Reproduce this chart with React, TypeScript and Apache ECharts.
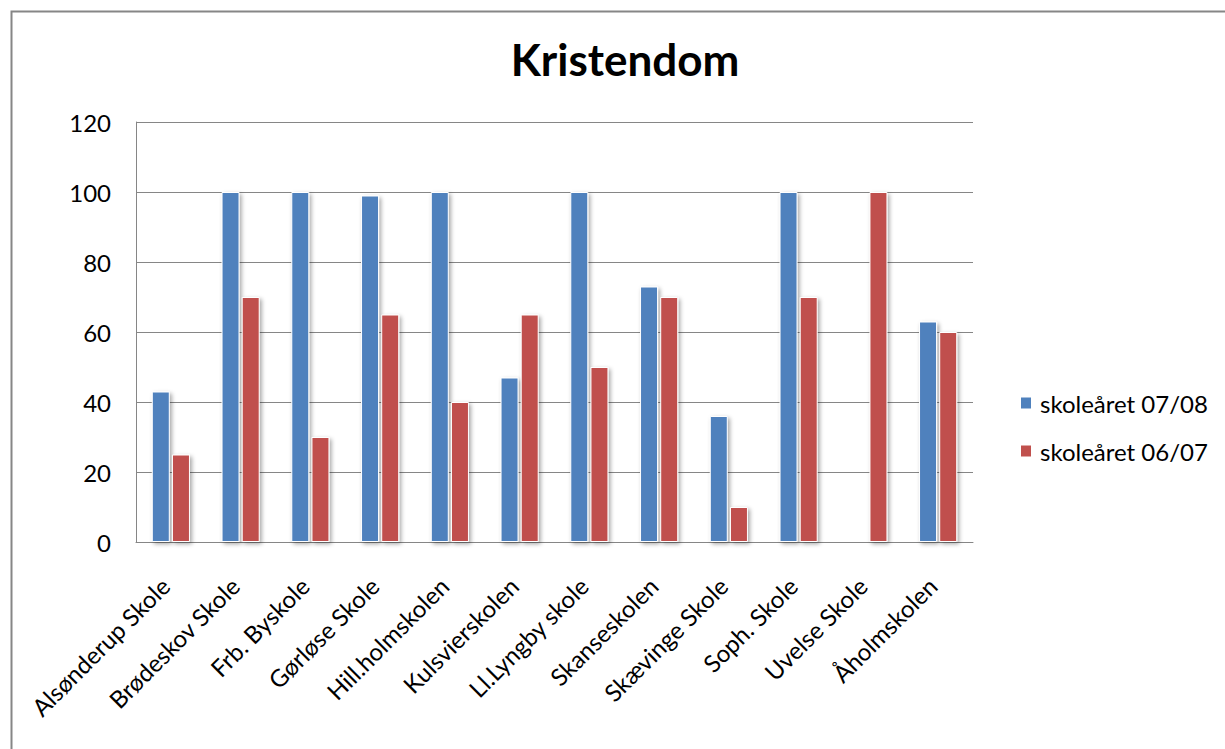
import React, { useEffect, useRef } from "react";
import * as echarts from "echarts";

const titleText = "Kristendom";
const categories = [
  "Alsønderup Skole",
  "Brødeskov Skole",
  "Frb. Byskole",
  "Gørløse Skole",
  "Hill.holmskolen",
  "Kulsvierskolen",
  "Ll.Lyngby skole",
  "Skanseskolen",
  "Skævinge Skole",
  "Soph. Skole",
  "Uvelse Skole",
  "Åholmskolen",
];
const seriesNames = ["skoleåret 07/08", "skoleåret 06/07"];
const values0708: (number | null)[] = [43, 100, 100, 99, 100, 47, 100, 73, 36, 100, null, 63];
const values0607: (number | null)[] = [25, 70, 30, 65, 40, 65, 50, 70, 10, 70, 100, 60];
const yMin = 0;
const yMax = 120;
const yInterval = 20;

const FONT = "Lato, 'Open Sans', sans-serif";

export default function App() {
  const ref = useRef<HTMLDivElement>(null);
  useEffect(() => {
    if (!ref.current) return;
    const chart = echarts.init(ref.current, null, { renderer: "svg" });
    const barStyle = (color: string) => ({
      color,
      borderColor: "#ffffff",
      borderWidth: 1,
      shadowColor: "rgba(0,0,0,0.35)",
      shadowBlur: 4,
      shadowOffsetX: 2,
      shadowOffsetY: 2,
    });
    chart.setOption({
      animation: false,
      backgroundColor: "#ffffff",
      textStyle: { fontFamily: FONT },
      title: {
        text: titleText,
        left: 620,
        textAlign: "center",
        top: 32,
        textStyle: { fontFamily: FONT, fontSize: 44, fontWeight: "bold", color: "#000000" },
      },
      graphic: [
        {
          type: "rect",
          left: 9,
          top: 9,
          shape: { x: 0, y: 0, width: 1300, height: 800 },
          style: { fill: "none", stroke: "#868686", lineWidth: 2 },
          silent: true,
          z: 100,
        },
      ],
      legend: {
        orient: "vertical",
        left: 1019,
        top: 391,
        padding: 0,
        itemWidth: 12,
        itemHeight: 13,
        itemGap: 24,
        icon: "rect",
        data: seriesNames,
        textStyle: { fontFamily: FONT, fontSize: 24, color: "#000000", lineHeight: 24, padding: [0, 0, 0, 3] },
      },
      grid: { left: 136, right: 252, top: 122, bottom: 207, containLabel: false },
      xAxis: {
        type: "category",
        data: categories,
        axisLine: { show: true, lineStyle: { color: "#868686", width: 1 } },
        axisTick: { show: false },
        axisLabel: {
          interval: 0,
          rotate: 45,
          margin: 34,
          padding: [0, 8, 0, 0],
          fontFamily: FONT,
          fontSize: 24,
          color: "#000000",
        },
      },
      yAxis: {
        type: "value",
        min: yMin,
        max: yMax,
        interval: yInterval,
        axisLine: { show: true, lineStyle: { color: "#868686", width: 1 } },
        axisTick: { show: false },
        splitLine: { show: true, lineStyle: { color: "#868686", width: 1 } },
        axisLabel: { margin: 25, fontFamily: FONT, fontSize: 24, color: "#000000" },
      },
      series: [
        {
          name: seriesNames[0],
          type: "bar",
          data: values0708,
          barWidth: 18,
          barGap: "12%",
          itemStyle: barStyle("#4F81BD"),
        },
        {
          name: seriesNames[1],
          type: "bar",
          data: values0607,
          barWidth: 18,
          itemStyle: barStyle("#C0504D"),
        },
      ],
    });
    return () => chart.dispose();
  }, []);
  return (
    <div
      ref={ref}
      style={{ position: "fixed", left: 0, top: 0, width: 1225, height: 749, background: "#fff" }}
    />
  );
}
